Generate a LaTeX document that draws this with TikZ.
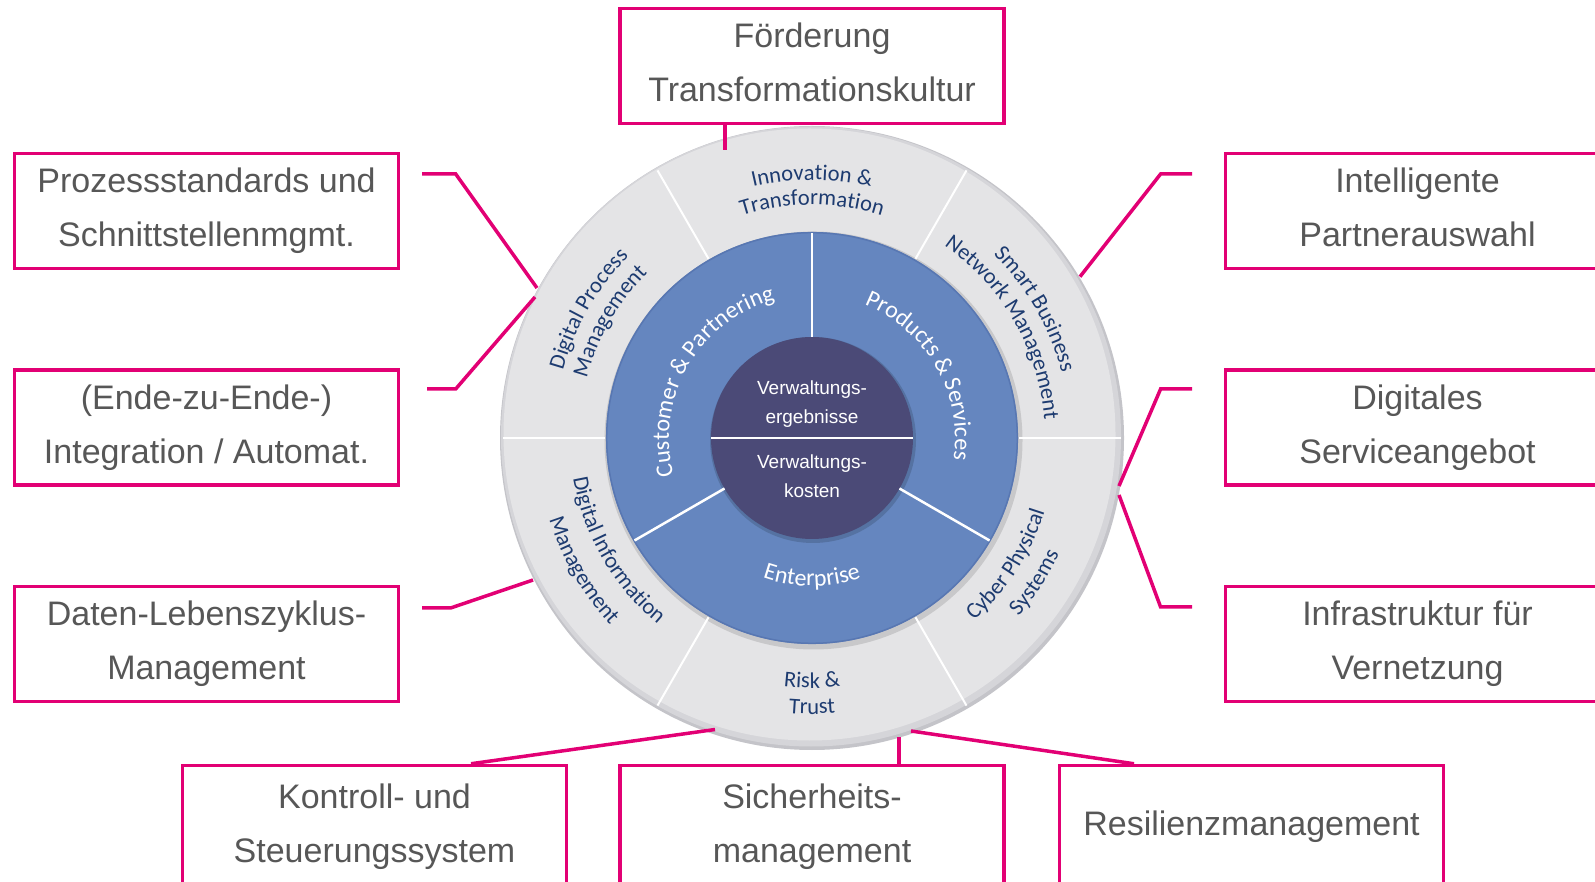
\documentclass[tikz,border=0pt]{standalone}
\usepackage{fontspec}
\setmainfont{Liberation Sans}
\newfontfamily\wheelfont{Carlito}
\usetikzlibrary{calc,decorations.text}
\definecolor{tmag}{HTML}{E20074}
\definecolor{boxtxt}{HTML}{575757}
\definecolor{wgrey}{HTML}{E4E4E6}
\definecolor{wrimA}{HTML}{C4C4C9}
\definecolor{wrimB}{HTML}{D5D5D9}
\definecolor{wblue}{HTML}{6586BF}
\definecolor{wblueedge}{HTML}{5877B2}
\definecolor{wdark}{HTML}{4B4A77}
\definecolor{wnavy}{HTML}{1D3B70}
\newcommand\whlfont{\wheelfont\fontsize{22.5}{27}\selectfont\color{wnavy}}
\newcommand\whlfontw{\wheelfont\fontsize{24}{28}\selectfont\color{white}}
\newcommand\wtext[5]{\path[decorate,decoration={text along path,text align=center,text={|#5|#4}}] ($(C)+(#1:#3)$) arc[start angle=#1,end angle=#2,radius=#3];}
\begin{document}
\begin{tikzpicture}[x=1pt,y=1pt,
  pbox/.style={draw=tmag, line width=3.5pt, minimum width=384pt, minimum height=115pt,
    inner sep=0pt, align=center, text=boxtxt, font=\fontsize{34}{54}\selectfont,
    execute at begin node={\vphantom{d}}, execute at end node={\vphantom{g}}},
  lowbox/.style={pbox, minimum height=122pt},
  conn/.style={draw=tmag, line width=3.5pt},
  divider/.style={draw=white, line width=2pt},
  ctext/.style={text=white, align=center, font=\fontsize{19}{28.5}\selectfont}]
\useasboundingbox (0,0) rectangle (1595,881);
\coordinate (C) at (812,443);
% ---- wheel ----
\fill[wrimA] (C) circle (312pt);
\fill[wrimB] ($(C)+(-1,1.5)$) circle (310pt);
\fill[wgrey] ($(C)+(-2.5,3.5)$) circle (306pt);
\fill[black, opacity=0.12] ($(C)+(1.5,-2.5)$) circle (209pt);
\fill[wblue] (C) circle (206pt);
\draw[wblueedge, line width=1.5pt] (C) circle (205.3pt);
\fill[black, opacity=0.15] ($(C)+(1,-2)$) circle (103pt);
\fill[wdark] (C) circle (101pt);
\foreach \a in {0,60,...,300}
  \draw[divider] ($(C)+(\a:207pt)$) -- ($(C)+(\a:309pt)$);
\foreach \a in {90,210,330}
  \draw[divider, line width=2.5pt] ($(C)+(\a:101pt)$) -- ($(C)+(\a:205pt)$);
\draw[divider, line width=2.5pt] ($(C)+(180:101pt)$) -- ($(C)+(0:101pt)$);
% center texts
\node[ctext] (res) at (812,477) {Verwaltungs-\\ergebnisse};
\node[ctext] (kost) at (812,405) {Verwaltungs-\\kosten};
% outer ring labels
\wtext{130}{50}{258pt}{Innovation {\&}}{\whlfont}
\wtext{130}{50}{233pt}{Transformation}{\whlfont}
\wtext{190}{110}{258pt}{Digital Process}{\whlfont}
\wtext{190}{110}{233pt}{Management}{\whlfont}
\wtext{70}{-10}{258pt}{Smart Business}{\whlfont}
\wtext{75}{-15}{233pt}{Network Management}{\whlfont}
\wtext{-78}{12}{244pt}{Cyber Physical}{\whlfont}
\wtext{-78}{12}{273pt}{Systems}{\whlfont}
\wtext{230}{310}{250pt}{Risk {\&}}{\whlfont}
\wtext{230}{310}{276pt}{Trust}{\whlfont}
\wtext{165}{255}{242pt}{Digital Information}{\whlfont}
\wtext{165}{255}{275pt}{Management}{\whlfont}
% blue ring labels
\wtext{215}{85}{143pt}{Customer {\&} Partnering}{\whlfontw}
\wtext{95}{-35}{143pt}{Products {\&} Services}{\whlfontw}
\wtext{240}{300}{148pt}{Enterprise}{\whlfontw}
% ---- boxes ----
\node[pbox] (top) at (812,815) {F\smash{ö}rderung\\Transformationskultur};
\node[pbox] (L1) at (206.5,670) {Prozessstandards und\\Schnittstellenmgmt.};
\node[pbox] (L2) at (206.5,453.5) {(Ende-zu-Ende-)\\Integration / Automat.};
\node[pbox] (L3) at (206.5,237) {Daten-Lebenszyklus-\\Management};
\node[pbox] (R1) at (1417.5,670) {Intelligente\\Partnerauswahl};
\node[pbox] (R2) at (1417.5,453.5) {Digitales\\Serviceangebot};
\node[pbox] (R3) at (1417.5,237) {Infrastruktur für\\Vernetzung};
\node[lowbox] (B1) at (374.5,54.5) {Kontroll- und\\Steuerungssystem};
\node[lowbox] (B2) at (812,54.5) {Sicherheits-\\management};
\node[lowbox] (B3) at (1251.5,54.5) {Resilienzmanagement};
% ---- connectors ----
\coordinate (t1) at (725,731);
\draw[conn] (top.south -| t1) -- (t1);
\coordinate (p1a) at (422,707);   \coordinate (p1b) at (455.7,707);   \coordinate (p1c) at (537,593);
\coordinate (p2a) at (427,492);   \coordinate (p2b) at (455.7,492);   \coordinate (p2c) at (535,584);
\coordinate (p3a) at (422,273);   \coordinate (p3b) at (450.6,273);   \coordinate (p3c) at (533,301);
\coordinate (q1a) at (1192,707);  \coordinate (q1b) at (1160.6,707);  \coordinate (q1c) at (1080,604.3);
\coordinate (q2a) at (1192,492);  \coordinate (q2b) at (1160.6,492);  \coordinate (q2c) at (1119,395);
\coordinate (q3a) at (1192,274);  \coordinate (q3b) at (1160.6,274);  \coordinate (q3c) at (1119,386);
\draw[conn] (p1a) -- (p1b) -- (p1c);
\draw[conn] (p2a) -- (p2b) -- (p2c);
\draw[conn] (p3a) -- (p3b) -- (p3c);
\draw[conn] (q1a) -- (q1b) -- (q1c);
\draw[conn] (q2a) -- (q2b) -- (q2c);
\draw[conn] (q3a) -- (q3b) -- (q3c);
\coordinate (k0) at (471,116);  \coordinate (k1) at (715,151.5);
\coordinate (s0) at (899,116);  \coordinate (s1) at (899,144);
\coordinate (r0) at (1134,116); \coordinate (r1) at (911,150);
\draw[conn] (B1.north -| k0) -- (k1);
\draw[conn] (B2.north -| s0) -- (s1);
\draw[conn] (B3.north -| r0) -- (r1);
\end{tikzpicture}
\end{document}
